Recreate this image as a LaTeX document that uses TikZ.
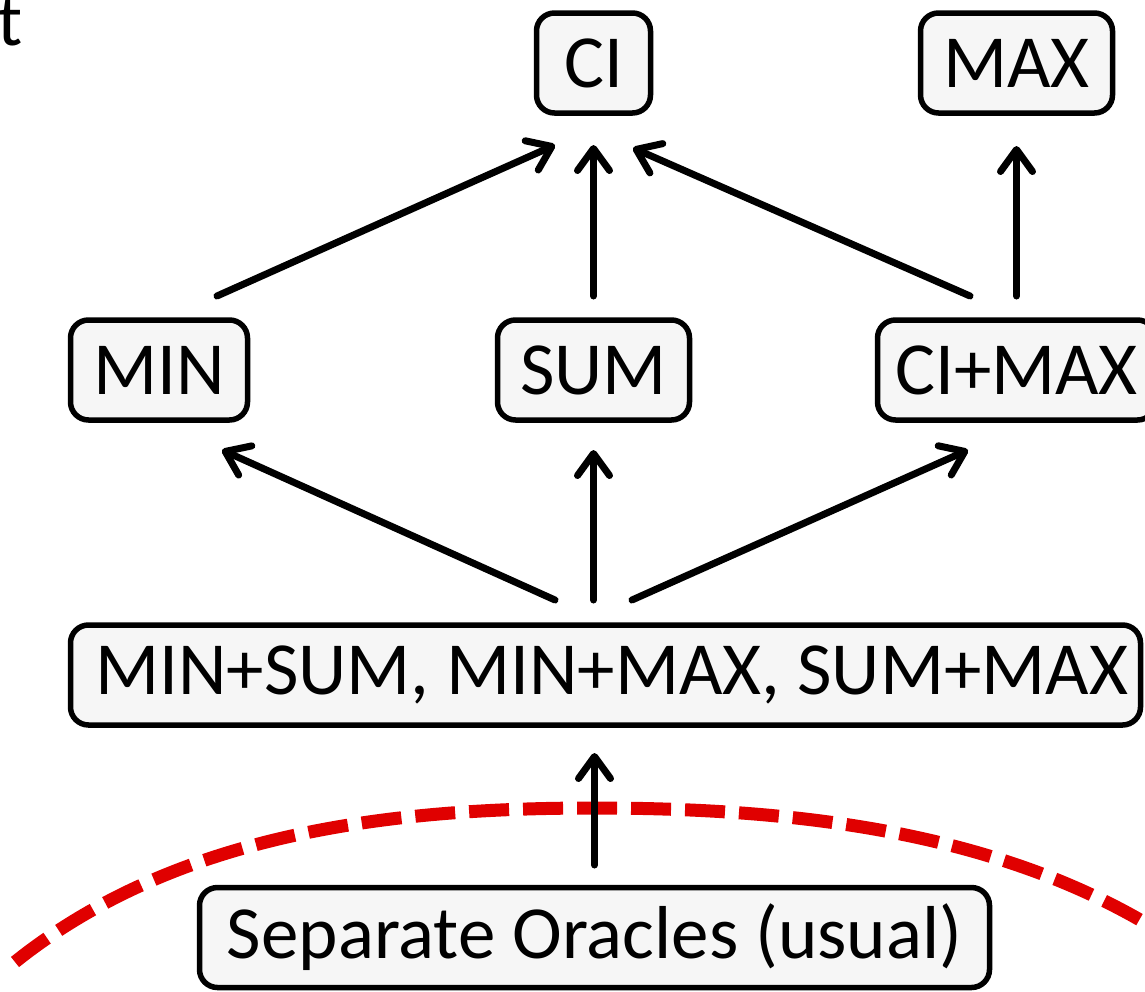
\documentclass[tikz,border=0pt]{standalone}
\usepackage{fontspec}
\setmainfont{Carlito}
\usetikzlibrary{arrows.meta,calc}
\definecolor{boxfill}{RGB}{246,246,246}
\definecolor{curvered}{RGB}{224,0,0}
\begin{document}
\begin{tikzpicture}[x=1pt,y=-1pt,
  lattbox/.style={draw=black,line width=5.5pt,fill=boxfill,rounded corners=18pt,
    minimum height=100pt,inner sep=0pt,font=\fontsize{75}{90}\selectfont},
  uparrow/.style={line width=7pt,line cap=round,
    -{Straight Barb[length=22pt,width=32pt,round]}},
  frontier/.style={curvered,line width=13pt,dash pattern=on 40pt off 14pt}]
\useasboundingbox (0,0) rectangle (1145,991);

% stray letter at the top-left margin
\node[anchor=base west,inner sep=0pt,font=\fontsize{75}{90}\selectfont] (stray) at (-3,45) {t};

% boundary curve below the lattice
\draw[frontier] (15,962) .. controls (180,830) and (400,808) .. (594,808)
  .. controls (790,808) and (1000,830) .. (1165,935);

% lattice of oracle models
\node[lattbox,minimum width=114pt] (CI)    at (593.5,63)  {CI};
\node[lattbox,minimum width=192pt] (MAX)   at (1016.5,63) {MAX};
\node[lattbox,minimum width=177pt] (MIN)   at (159,370)   {MIN};
\node[lattbox,minimum width=192pt] (SUM)   at (593.5,370) {SUM};
\node[lattbox,minimum width=278pt] (CIMAX) at (1016.5,370) {CI+MAX};
\node[lattbox,minimum width=1070pt] (MINSUM) at (605.5,675) {\hspace*{12pt}MIN+SUM, MIN+MAX, SUM+MAX};
\node[lattbox,minimum width=790pt] (Sep)   at (594.5,937.5) {Separate Oracles (usual)};

% connectors
\draw[uparrow] ($(MIN)+(58,-74)$) -- ($(CI)+(-38.5,82)$);
\draw[uparrow] ($(SUM)+(0,-74)$) -- ($(CI)+(0,82)$);
\draw[uparrow] ($(CIMAX)+(-46.5,-74)$) -- ($(CI)+(39.5,85)$);
\draw[uparrow] ($(CIMAX)+(0,-74)$) -- ($(MAX)+(0,83)$);
\draw[uparrow] ($(MINSUM)+(-50.5,-75)$) -- ($(MIN)+(63,80)$);
\draw[uparrow] ($(MINSUM -| SUM)+(0,-75)$) -- ($(SUM)+(0,80)$);
\draw[uparrow] ($(MINSUM)+(26.5,-75)$) -- ($(CIMAX)+(-48.5,80)$);
\draw[uparrow] ($(Sep)+(0,-72.5)$) -- ($(Sep |- MINSUM)+(0,78)$);
\end{tikzpicture}
\end{document}
